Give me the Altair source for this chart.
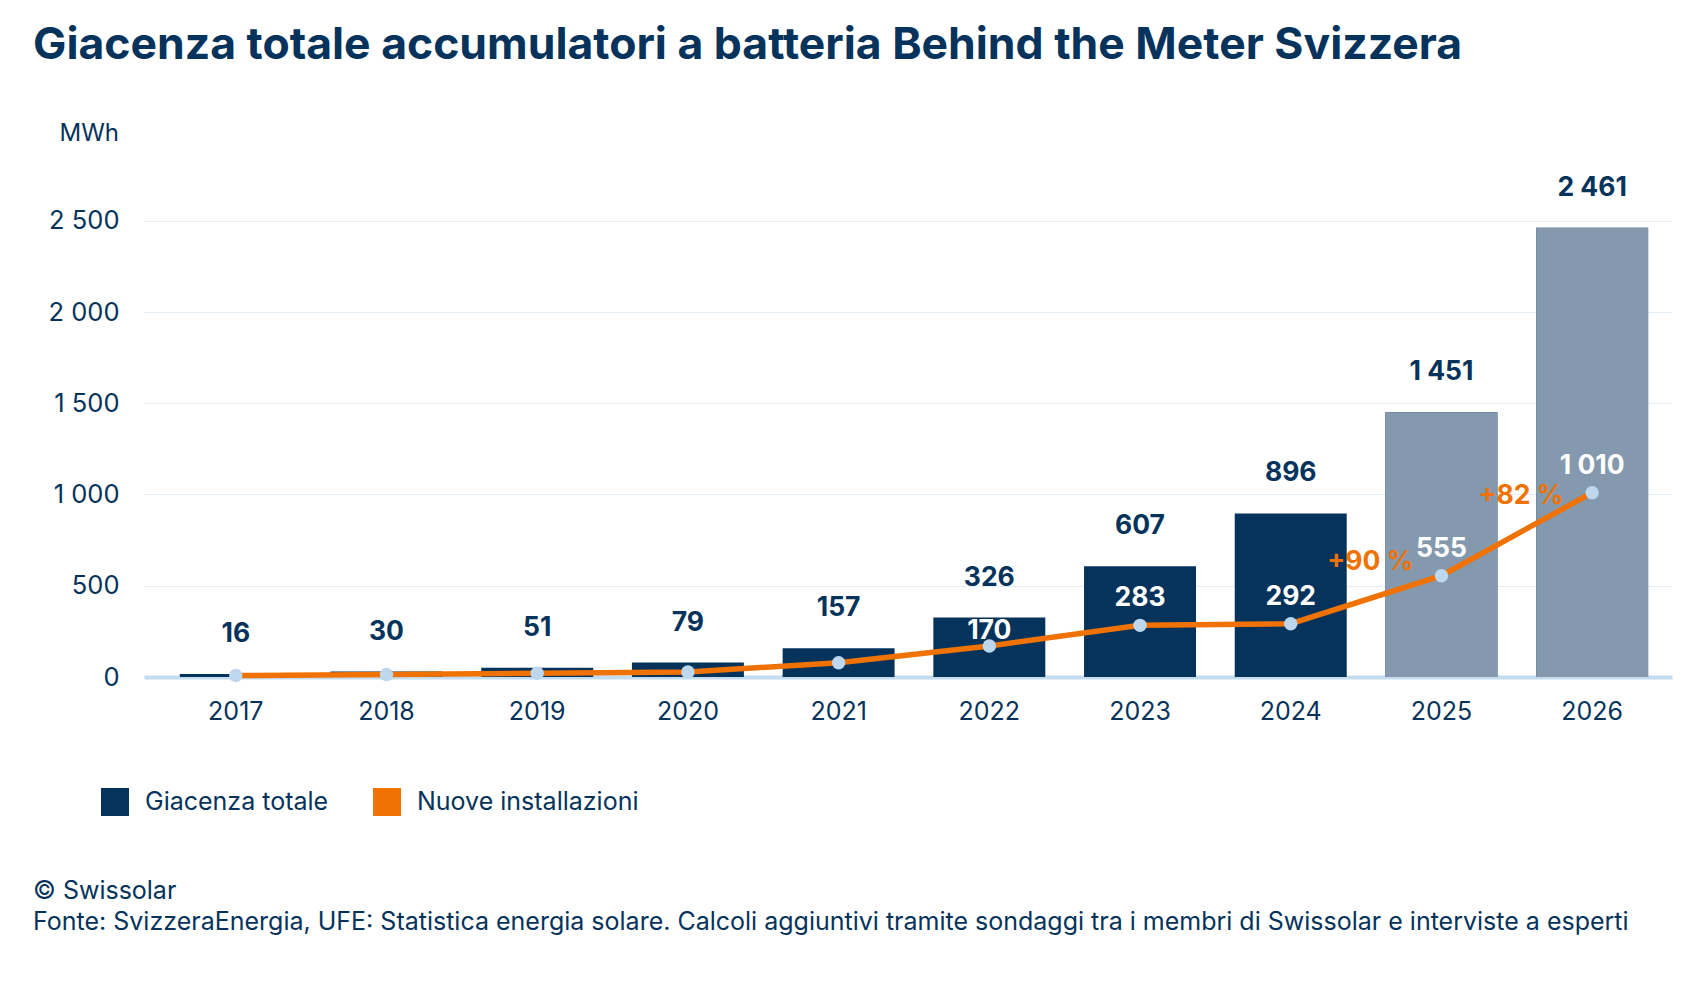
import altair as alt
import pandas as pd

NAVY = "#06335b"
GREY = "#8499ae"
ORANGE = "#ef7203"
DOT = "#bcd7ee"
FONT = "Inter"

years = ["2017", "2018", "2019", "2020", "2021", "2022", "2023", "2024", "2025", "2026"]
total = [16, 30, 51, 79, 157, 326, 607, 896, 1451, 2461]
new_install = [8, 14, 21, 28, 78, 170, 283, 292, 555, 1010]
forecast_years = ["2025", "2026"]
labelled_new = ["2022", "2023", "2024", "2025", "2026"]
pct_years = ["2025", "2026"]
pct_text = ["+90 %", "+82 %"]
y_ticks = [0, 500, 1000, 1500, 2000, 2500]

title_text = "Giacenza totale accumulatori a batteria Behind the Meter Svizzera"
footer_text = (
    "© Swissolar\n"
    "Fonte: SvizzeraEnergia, UFE: Statistica energia solare. Calcoli aggiuntivi tramite "
    "sondaggi tra i membri di Swissolar e interviste a esperti"
)


def fmt(v):
    return f"{v:,}".replace(",", " ")


df = pd.DataFrame({
    "year": years,
    "total": total,
    "new": new_install,
    "series": "Giacenza totale",
})
df["total_label"] = df["total"].map(fmt)
df["new_label"] = df["new"].map(fmt)

pct_df = pd.DataFrame({
    "year": pct_years,
    "text": pct_text,
    "mid": [(new_install[years.index(y) - 1] + new_install[years.index(y)]) / 2 for y in pct_years],
})

x_enc = alt.X(
    "year:N",
    title=None,
    scale=alt.Scale(paddingInner=0.257, paddingOuter=0.198, align=0.6),
    axis=alt.Axis(
        labelAngle=0, labelFontSize=25, labelColor=NAVY, labelFont=FONT,
        labelPadding=22, ticks=False, domainColor="#c3dcf0", domainWidth=4,
    ),
)
y_scale = alt.Scale(domain=[0, 2800], nice=False)

base = alt.Chart(df)

bars = base.mark_bar(color=NAVY).encode(
    x=x_enc,
    y=alt.Y(
        "total:Q",
        scale=y_scale,
        title="MWh",
        axis=alt.Axis(
            values=y_ticks, grid=True, gridColor="#e4eef6", domain=False, ticks=False,
            labelFontSize=25.5, labelColor=NAVY, labelFont=FONT, labelPadding=25,
            labelExpr="replace(format(datum.value, ','), ',', ' ')",
            titleAngle=0, titleX=-85, titleY=-26, titleAlign="left",
            titleBaseline="alphabetic", titleFontSize=24, titleFontWeight="normal",
            titleColor=NAVY, titleFont=FONT,
        ),
    ),
    color=alt.Color(
        "series:N",
        scale=alt.Scale(domain=["Giacenza totale", "Nuove installazioni"], range=[NAVY, ORANGE]),
        legend=alt.Legend(
            title=None, orient="none", legendX=-43, legendY=622, direction="horizontal",
            symbolType="square", symbolSize=784, symbolStrokeWidth=0, padding=0,
            labelFontSize=25, labelColor=NAVY, labelFont=FONT, labelOffset=16,
            labelLimit=400, columnPadding=44,
        ),
    ),
)

forecast = base.transform_filter(
    alt.FieldOneOfPredicate(field="year", oneOf=forecast_years)
).mark_bar(color=GREY).encode(x="year:N", y="total:Q")

total_text = base.mark_text(
    baseline="alphabetic", dy=-32, fontSize=26.5, fontWeight="bold", font=FONT, color=NAVY
).encode(x="year:N", y="total:Q", text="total_label:N")

line = base.mark_line(color=ORANGE, strokeWidth=5.5).encode(x="year:N", y="new:Q")
dots = base.mark_circle(color=DOT, size=180, opacity=1).encode(x="year:N", y="new:Q")

# white labels sit above the dot, but are kept inside the bar
new_text = base.transform_filter(
    alt.FieldOneOfPredicate(field="year", oneOf=labelled_new)
).transform_calculate(
    label_pos="min(datum.new + 105, datum.total - 120)"
).mark_text(
    baseline="alphabetic", fontSize=26.5, fontWeight="bold", font=FONT, color="white"
).encode(x="year:N", y="label_pos:Q", text="new_label:N")

pct = alt.Chart(pct_df).mark_text(
    baseline="alphabetic", dx=-71, dy=-30, fontSize=26.5, fontWeight="bold", font=FONT, color=ORANGE
).encode(x="year:N", y="mid:Q", text="text:N")

title = alt.Chart(pd.DataFrame({"t": [title_text]})).mark_text(
    align="left", baseline="alphabetic", fontSize=44.5, fontWeight="bold", font=FONT, color=NAVY
).encode(text="t:N", x=alt.value(-111), y=alt.value(-107))

footer = alt.Chart(pd.DataFrame({"t": [footer_text]})).mark_text(
    align="left", baseline="alphabetic", fontSize=25, font=FONT, color=NAVY,
    lineBreak="\n", lineHeight=31,
).encode(text="t:N", x=alt.value(-111), y=alt.value(733))

chart = (
    alt.layer(bars, forecast, line, dots, total_text, new_text, pct, title, footer)
    .properties(
        width=1528,
        height=511,
        padding={"left": 136, "top": 158, "right": 16, "bottom": 300},
        autosize=alt.AutoSizeParams(type="none"),
        background="white",
    )
    .configure_view(stroke=None)
)

chart.save("out.html", embed_options={"renderer": "svg", "actions": False})
